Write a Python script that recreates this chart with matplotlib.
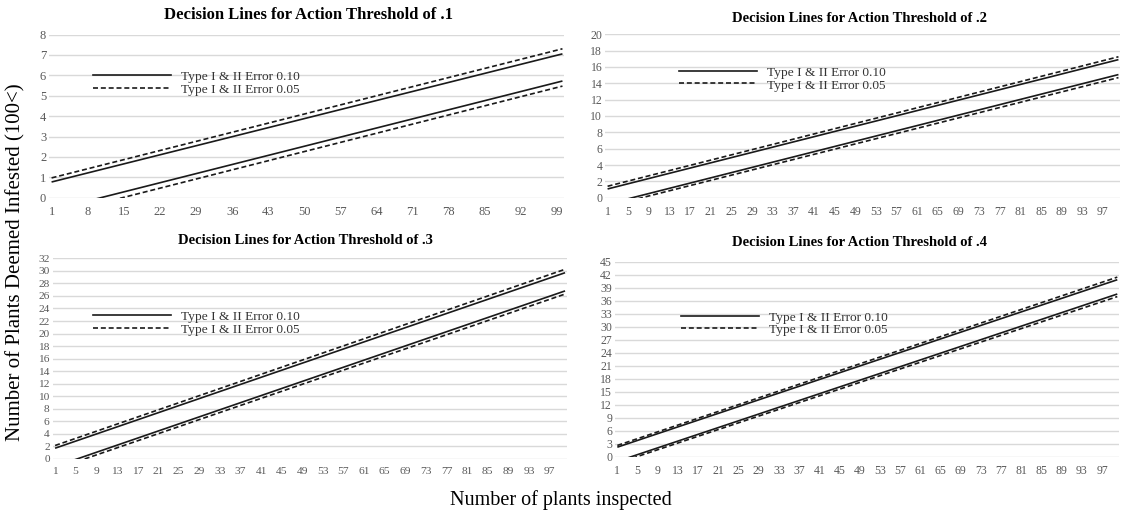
import matplotlib
matplotlib.use('Agg')
import matplotlib.pyplot as plt
from matplotlib.lines import Line2D

plt.rcParams['font.family'] = ['Liberation Serif', 'DejaVu Serif']

W, H = 1122, 514

# action thresholds, one panel each
thresholds = ['.1', '.2', '.3', '.4']
n_plants = [1, 100]

# decision lines: number deemed infested at n = 1 and n = 100
upper_010 = [(0.77, 7.05), (1.07, 16.9), (1.72, 29.7), (2.2, 40.9)]
upper_005 = [(0.97, 7.30), (1.40, 17.25), (2.15, 30.25), (2.6, 41.5)]
lower_010 = [(-0.61, 5.72), (-0.77, 15.07), (-1.2, 26.8), (-1.08, 37.6)]
lower_005 = [(-0.88, 5.47), (-1.06, 14.7), (-1.61, 26.3), (-1.5, 37.0)]
legend_labels = ['Type I & II Error 0.10', 'Type I & II Error 0.05']

y_max = [8, 20, 32, 45]
y_step = [1, 2, 2, 3]
x_step = [7, 4, 4, 4]

# panel boxes in pixels: left, right, top, bottom
boxes = [(49, 564, 34.5, 197.7), (605, 1120, 34.3, 197.7),
         (52.5, 566.6, 258.3, 459), (614.8, 1118.8, 262, 456.7)]
title_pos = [(308, 15), (860, 19), (305, 240), (860, 243)]
title_size = [12, 10.5, 10.5, 10.5]
# legend: handle start x, first row y
legend_pos = [(93.3, 75), (679, 70.5), (93.3, 315), (681, 315.5)]
tick_size = [9, 8.5, 8.2, 8.5]

ink = '#1a1a1a'
grey = '#595959'
dash = (3.0, 1.7)


def px(x, y):
    return x / W, 1 - y / H


fig = plt.figure(figsize=(W / 100, H / 100), dpi=100)

for i, thr in enumerate(thresholds):
    l, r, t, b = boxes[i]
    ax = fig.add_axes([l / W, 1 - b / H, (r - l) / W, (b - t) / H])

    ax.plot(n_plants, upper_010[i], color=ink, lw=1.2, solid_capstyle='butt')
    ax.plot(n_plants, lower_010[i], color=ink, lw=1.2, solid_capstyle='butt')
    ax.plot(n_plants, upper_005[i], color=ink, lw=1.2, dashes=dash)
    ax.plot(n_plants, lower_005[i], color=ink, lw=1.2, dashes=dash)

    ax.set_xlim(0.5, 100.3)
    ax.set_ylim(0, y_max[i])
    ax.set_xticks(range(1, 100, x_step[i]))
    ax.set_yticks(range(0, y_max[i] + 1, y_step[i]))
    ax.tick_params(length=0, colors=grey, labelsize=tick_size[i])
    ax.tick_params(axis='x', pad=6)
    ax.tick_params(axis='y', pad=2)
    ax.grid(axis='y', color='#d9d9d9', lw=1)
    ax.set_axisbelow(True)
    for s in ax.spines.values():
        s.set_visible(False)

    tx, ty = title_pos[i]
    fig.text(*px(tx, ty), f'Decision Lines for Action Threshold of {thr}',
             ha='center', va='center', fontsize=title_size[i],
             fontweight='bold', color='black')

    # legend drawn by hand: long line samples, text a little lower
    lx, ly = legend_pos[i]
    for k, style in enumerate([None, dash]):
        y = ly + k * 12.8
        x0, y0 = px(lx, y)
        x1, _ = px(lx + 77.5, y)
        line = Line2D([x0, x1], [y0, y0], transform=fig.transFigure,
                      color=ink, lw=1.2)
        if style:
            line.set_dashes(style)
        fig.add_artist(line)
        fig.text(*px(lx + 88, y + 2.2), legend_labels[k], ha='left',
                 va='center', fontsize=9.6, color='#333333')

fig.text(*px(16, 262), 'Number of Plants Deemed Infested (100<)',
         rotation=90, ha='center', va='center', fontsize=15)
fig.text(*px(561, 500), 'Number of plants inspected',
         ha='center', va='center', fontsize=14.5)

fig.savefig('out.png', dpi=100)
